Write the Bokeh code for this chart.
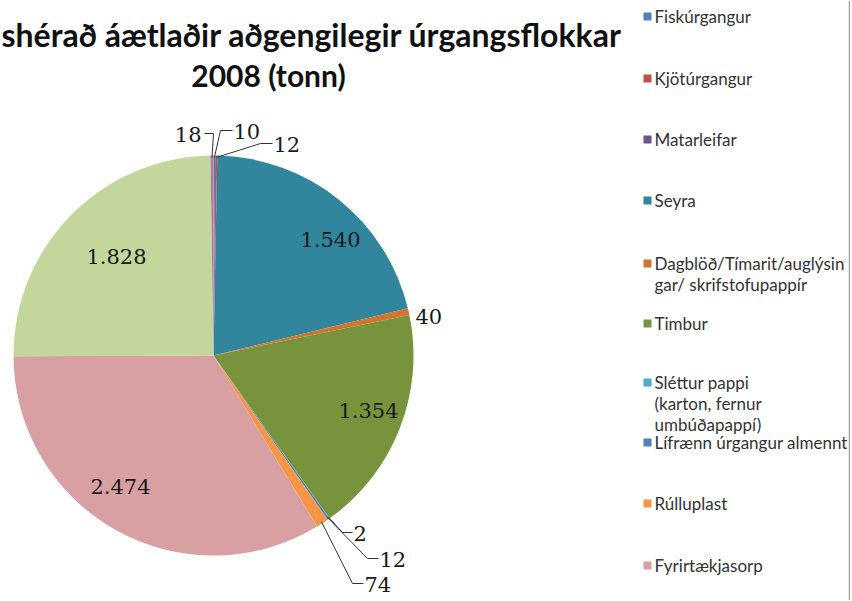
import numpy as np
from bokeh.plotting import figure
from bokeh.models import Range1d
from bokeh.core.properties import value
from bokeh.embed import file_html
from bokeh.resources import INLINE

# ---------------- data ----------------
title_line1 = "shérað áætlaðir aðgengilegir úrgangsflokkar"
title_line2 = "2008 (tonn)"

categories = [
    "Fiskúrgangur",
    "Kjötúrgangur",
    "Matarleifar",
    "Seyra",
    "Dagblöð/Tímarit/auglýsingar/ skrifstofupappír",
    "Timbur",
    "Sléttur pappi (karton, fernur umbúðapappí)",
    "Lífrænn úrgangur almennt",
    "Rúlluplast",
    "Fyrirtækjasorp",
    "",  # category 11 (legend entry not visible)
    "",  # category 12 (legend entry not visible)
]
values = [10, 12, 0, 1540, 40, 1354, 2, 12, 74, 2474, 1828, 18]

legend_lines = [
    ["Fiskúrgangur"],
    ["Kjötúrgangur"],
    ["Matarleifar"],
    ["Seyra"],
    ["Dagblöð/Tímarit/auglýsin", "gar/ skrifstofupappír"],
    ["Timbur"],
    ["Sléttur pappi", "(karton, fernur", "umbúðapappí)"],
    ["Lífrænn úrgangur almennt"],
    ["Rúlluplast"],
    ["Fyrirtækjasorp"],
]

colors = ["#4F81BD", "#C0504D", "#6A5488", "#31859C", "#D0742F", "#77933C",
          "#4BACC6", "#4F81BD", "#F79646", "#D9A0A3", "#C3D69B", "#B07BA8"]

# ---------------- layout (screen pixel coordinates) ----------------
W, H = 850, 600
def X(sx):
    return sx
def Y(sy):
    return H - sy

CX, CY, R = 213, 355, 200

p = figure(width=W, height=H, output_backend="svg", toolbar_location=None,
           x_range=Range1d(0, W), y_range=Range1d(0, H), min_border=0)
p.axis.visible = False
p.grid.visible = False
p.outline_line_color = None
p.background_fill_color = "white"

vals = np.array(values, dtype=float)
total = vals.sum()
cum = np.cumsum(vals)
start_frac = (cum - vals) / total
end_frac = cum / total
mid_frac = (start_frac + end_frac) / 2

nz = vals > 0
p.wedge(x=X(CX), y=Y(CY), radius=R,
        start_angle=(np.pi / 2 - end_frac * 2 * np.pi)[nz],
        end_angle=(np.pi / 2 - start_frac * 2 * np.pi)[nz],
        direction="anticlock", fill_color=np.array(colors)[nz],
        line_color=None)

def fmt(v):
    return f"{v:,}".replace(",", ".")

lbl_font = value("DejaVu Serif")
lbl_size = "21px"
# big labels placed inside: (index, screen x, screen y centre)
inside = {3: (330, 239), 5: (368, 410), 9: (120, 486), 10: (116, 256)}
for i, (lx, ly) in inside.items():
    p.text(x=[X(lx)], y=[Y(ly)], text=[fmt(values[i])], text_font=lbl_font,
           text_font_size=lbl_size, text_align="center", text_baseline="middle",
           text_color="#1a1a1a")

# small labels with leader lines: index -> (elbow, end, align)
leaders = {
    0: ((220, 130), (232, 130), "left"),
    1: ((260, 143), (272, 143), "left"),
    11: ((213, 133), (204, 133), "right"),
    6: ((342, 532), (352, 532), "left"),
    7: ((367, 558), (378, 558), "left"),
    8: ((352, 583), (363, 583), "left"),
}
for i, (elb, end, al) in leaders.items():
    ang = mid_frac[i] * 2 * np.pi
    ex = CX + (R - 2) * np.sin(ang)
    ey = CY - (R - 2) * np.cos(ang)
    p.line(x=[X(ex), X(elb[0]), X(end[0])], y=[Y(ey), Y(elb[1]), Y(end[1])],
           line_color="#333333", line_width=1)
    tx = end[0] + (1 if al == "left" else -3)
    p.text(x=[X(tx)], y=[Y(end[1] + 1)], text=[fmt(values[i])], text_font=lbl_font,
           text_font_size=lbl_size, text_align=al, text_baseline="alphabetic",
           text_color="#1a1a1a")

# label for Dagblöð (40) next to slice
p.text(x=[X(415)], y=[Y(316)], text=[fmt(values[4])], text_font=lbl_font,
       text_font_size=lbl_size, text_align="left", text_baseline="middle",
       text_color="#1a1a1a")

# title
p.text(x=[X(1)], y=[Y(34)], text=[title_line1], text_font=value("Lato"),
       text_font_size="32px", text_font_style="bold", text_align="left",
       text_baseline="middle", text_color="#111111")
p.text(x=[X(268)], y=[Y(74)], text=[title_line2], text_font=value("Lato"),
       text_font_size="30px", text_font_style="bold", text_align="center",
       text_baseline="middle", text_color="#111111")

# legend
leg_y = [16, 78, 139, 200, 263, 323, 382, 442, 503, 565]
line_gap = 21
for k, lines in enumerate(legend_lines):
    y0 = leg_y[k]
    p.rect(x=[X(647)], y=[Y(y0)], width=8, height=8, fill_color=colors[k], line_color=None)
    for j, t in enumerate(lines):
        p.text(x=[X(654)], y=[Y(y0 + j * line_gap)], text=[t], text_font=value("Lato"),
               text_font_size="17px", text_align="left", text_baseline="middle",
               text_color="#333333")

# legend frame right edge
p.line(x=[X(849), X(849)], y=[Y(0), Y(600)], line_color="#a0a0a0", line_width=1.5)

open("out.html", "w").write(file_html(p, INLINE))
